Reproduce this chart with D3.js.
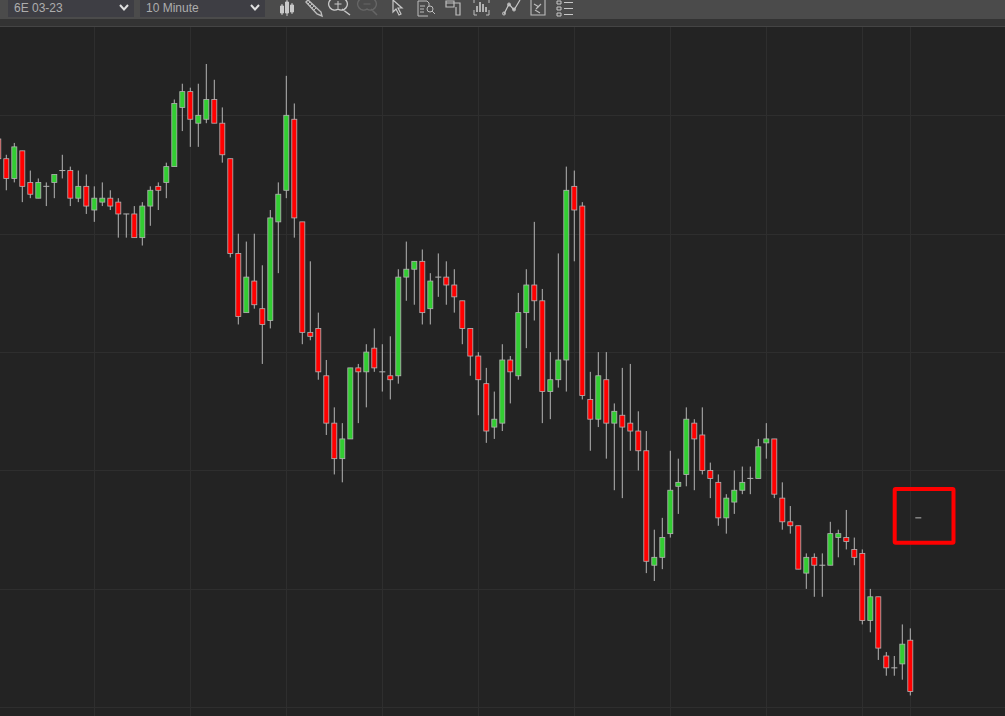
<!DOCTYPE html>
<html><head><meta charset="utf-8">
<style>html,body{margin:0;padding:0;background:#222;overflow:hidden}svg{display:block}</style>
<script src="https://cdn.jsdelivr.net/npm/d3@7"></script>
</head><body><svg id="c" width="1005" height="716"></svg>
<script>
// Candles. Prices are in instrument ticks above the lowest grid line.
const instrument = "6E 03-23";
const interval = "10 Minute";
const firstBar = -1;
const opens = [144,139,134,141,133,129,132,133,136,136,129,132,126,128,129,128,125,125,119,127,132,133,137,152,156,148,149,154,148,139,115,100,108,101,98,123,131,149,123,95,96,84,72,63,68,86,85,91,85,84,84,109,111,113,101,109,109,107,103,96,89,82,71,72,88,84,100,107,103,80,83,88,132,127,78,73,83,72,74,72,70,65,36,38,44,56,59,72,69,60,57,48,52,55,58,58,67,68,53,47,46,34,38,36,36,43,43,40,39,22,28,13,10,11,17,48];
const highs = [146,140,143,141,136,134,133,135,140,137,136,135,132,133,131,129,125,127,128,132,133,138,154,158,157,158,163,159,152,139,120,118,120,112,126,133,160,153,123,113,100,88,76,72,86,87,92,96,92,94,111,118,113,116,110,115,113,111,103,96,90,86,80,92,89,105,111,123,106,90,115,137,136,128,85,90,90,77,86,87,75,70,45,48,65,63,76,73,76,62,59,54,60,61,61,68,72,68,57,51,46,39,39,39,47,45,50,43,40,30,28,14,13,21,20,48];
const lows = [138,131,133,128,129,129,127,129,134,127,128,125,123,127,126,119,119,119,117,122,126,129,137,146,142,142,148,148,138,114,97,100,101,87,96,110,129,119,92,93,83,69,59,57,68,72,76,85,80,78,82,103,102,97,97,104,102,100,92,84,74,67,68,70,77,83,91,98,72,73,81,80,113,78,65,71,63,55,53,65,60,34,32,35,43,49,56,55,59,53,46,44,49,54,54,58,63,53,45,44,35,30,28,28,36,38,40,36,21,19,12,8,8,7,3,48];
const closes = [139,134,142,132,130,133,132,135,136,129,132,127,129,129,127,125,125,119,127,131,131,137,153,156,149,150,154,148,140,115,99,109,102,97,124,130,150,124,95,94,85,72,63,68,86,85,90,86,85,83,109,111,113,100,108,109,107,104,96,89,83,70,73,88,85,100,107,103,80,83,88,131,126,79,73,84,72,75,71,70,65,37,38,43,55,57,73,68,60,58,48,53,55,57,58,66,68,54,47,46,35,38,36,36,44,44,42,38,22,28,15,10,10,16,4,48];
const gridPrices = [0,30,60,90,120,150];
const gridBars = [11,23,35,47,59,71,83,95,107,113];
const highlightBars = [111.05,118.4];
const highlightPrices = [55.3,41.7];

const svg = d3.select("#c");
const x = d3.scaleLinear().domain([0,114]).range([6.3,918.3]);
const y = d3.scaleLinear().domain([0,150]).range([707.3,115.3]);

const bars = opens.map((o,i)=>({bar:firstBar+i,o,h:highs[i],l:lows[i],c:closes[i]}));

svg.append("rect").attr("width",1005).attr("height",716).attr("fill","#232323");

// grid
const grid = svg.append("g").attr("stroke","#2e2e2e").attr("stroke-width",1);
grid.selectAll("line.h").data(gridPrices).join("line").attr("class","h")
  .attr("x1",0).attr("x2",1005).attr("y1",d=>Math.round(y(d))+.5).attr("y2",d=>Math.round(y(d))+.5);
grid.selectAll("line.v").data(gridBars).join("line").attr("class","v")
  .attr("y1",27).attr("y2",716).attr("x1",d=>Math.floor(x(d))+.5).attr("x2",d=>Math.floor(x(d))+.5);

// candles
const cx = d=>x(d.bar);
const g = svg.append("g");
const candle = g.selectAll("g").data(bars).join("g");
candle.append("line").attr("x1",cx).attr("x2",cx)
  .attr("y1",d=>y(d.h)).attr("y2",d=>y(d.l))
  .attr("stroke","#b4b4b4").attr("stroke-width",1);
candle.filter(d=>d.o!==d.c).append("rect")
  .attr("x",d=>cx(d)-2.5).attr("width",5)
  .attr("y",d=>y(Math.max(d.o,d.c)))
  .attr("height",d=>Math.max(1,y(Math.min(d.o,d.c))-y(Math.max(d.o,d.c))))
  .attr("fill",d=>d.c>d.o?"#32cd32":"#ff0000")
  .attr("stroke","#b4b4b4").attr("stroke-width",0.8);
candle.filter(d=>d.o===d.c).append("line")
  .attr("x1",d=>cx(d)-3).attr("x2",d=>cx(d)+3)
  .attr("y1",d=>y(d.c)).attr("y2",d=>y(d.c))
  .attr("stroke","#b4b4b4");

// annotation box around the forming bar
svg.append("rect")
  .attr("x",x(highlightBars[0])).attr("width",x(highlightBars[1])-x(highlightBars[0]))
  .attr("y",y(highlightPrices[0])).attr("height",y(highlightPrices[1])-y(highlightPrices[0]))
  .attr("fill","none").attr("stroke","#ff0000").attr("stroke-width",4).attr("rx",1);

// toolbar
const tb = svg.append("g");
tb.append("rect").attr("width",1005).attr("height",19).attr("fill","#4b4b4b");
tb.append("rect").attr("y",19).attr("width",1005).attr("height",7).attr("fill","#333333");
tb.append("rect").attr("y",26).attr("width",1005).attr("height",1).attr("fill","#444444");
const selects = [{x:8,w:126,t:instrument},{x:140,w:125,t:interval}];
const s = tb.selectAll("g.sel").data(selects).join("g").attr("class","sel").attr("transform",d=>`translate(${d.x},0)`);
s.append("rect").attr("width",d=>d.w).attr("height",17).attr("fill","#3e3e44");
s.append("text").attr("x",6).attr("y",12).attr("fill","#adadad")
  .attr("font-family","Liberation Sans, Arial, sans-serif").attr("font-size",12).text(d=>d.t);
s.append("path").attr("transform",d=>`translate(${d.w-14},5)`).attr("d","M0 0L4 4.5L8 0")
  .attr("fill","none").attr("stroke","#e0e0e0").attr("stroke-width",2);

// toolbar icons
const icon = (px,py,d,col="#c8c8c8",w=1.3,fill="none")=>tb.append("path")
  .attr("transform",`translate(${px},${py})`).attr("d",d)
  .attr("fill",fill).attr("stroke",col).attr("stroke-width",w);
icon(280,0,"M2 4V15M7 0V16M12 3V14","#c8c8c8",1);
icon(280,0,"M0.5 6H3.5V13H0.5ZM5.5 2H8.5V13H5.5ZM10.5 5H13.5V12H10.5Z","#c8c8c8",1,"#c8c8c8");
icon(305,0,"M1 2L3 0L16 12L17 16L12 14Z","#bdbdbd",1.4);
icon(305,0,"M3 4L5 2M5 6L7 4M7 8L9 6M9 10L11 8","#bdbdbd",1);
icon(331,0,"M3.5 4H10.5M7 1V8","#c8c8c8",1);
icon(331,0,"M7 -1A6 6 0 1 1 7 9A6 6 0 1 1 7 -1M11 9L19 15","#c8c8c8",1.5);
icon(360,0,"M3.5 4H10.5","#666666",1);
icon(360,0,"M7 -1A6 6 0 1 1 7 9A6 6 0 1 1 7 -1M11 9L17 15","#666666",1.5);
icon(392,0,"M1 0L1 12L4 9L7 15L9 14L6 8L10 8Z","#c8c8c8",1.2);
icon(418,0,"M0 1H9L11 3V6M0 1V16H10M2 6H7M2 9H6M2 12H6","#bdbdbd",1);
icon(418,0,"M12 6A3 3 0 1 1 12 12A3 3 0 1 1 12 6M14 11L17 14","#bdbdbd",1);
icon(445,0,"M1 1H9V7H1ZM9 3H15V15H11V7M1 3H9","#bdbdbd",1.2);
icon(473,0,"M4 6V12M7 2V12M10 4V12M13 7V12","#c8c8c8",1.6);
icon(473,0,"M1 10V15H4M16 10V15H13M1 3V0M16 3V0","#bdbdbd",1);
icon(502,0,"M2 14L7 4L12 10L18 0","#c8c8c8",1.2);
icon(502,0,"M2 15A1.5 1.5 0 1 1 2 12A1.5 1.5 0 1 1 2 15M7 6A1.5 1.5 0 1 1 7 3A1.5 1.5 0 1 1 7 6M12 11A1.5 1.5 0 1 1 12 8A1.5 1.5 0 1 1 12 11","#c8c8c8",1);
icon(531,0,"M0 0V15H14V0M3 4L8 7M10 4L5 9M4 10L9 13","#bdbdbd",1.1);
icon(557,0,"M0 1H4V4H0ZM0 7H4V10H0ZM0 13H4V16H0ZM7 2.5H16M7 8.5H16M7 14.5H16","#c8c8c8",1);
</script>
</body></html>
